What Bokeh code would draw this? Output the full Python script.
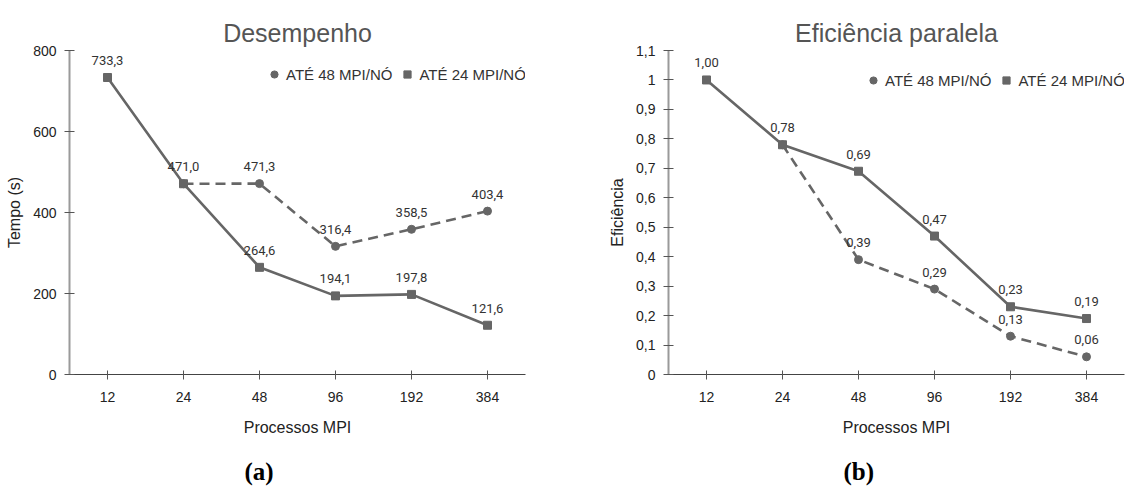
from bokeh.plotting import figure
from bokeh.models import ColumnDataSource, FactorRange, Range1d, FixedTicker, Legend, LegendItem, Title
from bokeh.layouts import row
from bokeh.embed import file_html
from bokeh.resources import INLINE
from bokeh.core.properties import value

# ---- data ----
procs = ["12", "24", "48", "96", "192", "384"]
tempo_24 = [733.3, 471.0, 264.6, 194.1, 197.8, 121.6]
tempo_48 = [None, 471.0, 471.3, 316.4, 358.5, 403.4]
efic_24 = [1.00, 0.78, 0.69, 0.47, 0.23, 0.19]
efic_48 = [None, 0.78, 0.39, 0.29, 0.13, 0.06]
tempo_ticks = [0, 200, 400, 600, 800]
efic_ticks = [0, 0.1, 0.2, 0.3, 0.4, 0.5, 0.6, 0.7, 0.8, 0.9, 1.0, 1.1]
series_names = ["ATÉ 48 MPI/NÓ", "ATÉ 24 MPI/NÓ"]

LINE = "#666666"
TXT = "#333333"
SANS = "Arial"


def make_chart(title, ylabel, s24, s48, yticks, ymax, decimals, sub,
               min_left, min_right, leg_x, leg_y):
    p = figure(x_range=FactorRange(*procs), y_range=Range1d(0, ymax),
               frame_width=456, frame_height=324,
               min_border_left=min_left, min_border_right=min_right,
               min_border_top=50, min_border_bottom=115,
               output_backend="svg", toolbar_location=None,
               background_fill_color="white", border_fill_color="white")
    p.outline_line_color = None
    p.grid.visible = False

    p.title.text = title
    p.title.align = "center"
    p.title.text_font = SANS
    p.title.text_font_size = "25px"
    p.title.text_font_style = "normal"
    p.title.text_color = "#555555"
    p.title.standoff = 8

    st = Title(text=sub, align="left", offset=175, text_font="Liberation Serif",
               text_font_size="25px", text_font_style="bold", text_color="black",
               vertical_align="top", standoff=38)
    p.add_layout(st, "below")

    fmt = "{:." + str(decimals) + "f}"

    # dashed series (48 MPI/NO)
    xs48 = [c for c, v in zip(procs, s48) if v is not None]
    ys48 = [v for v in s48 if v is not None]
    lab48 = [fmt.format(v).replace(".", ",") if c != "24" else "" for c, v in zip(xs48, ys48)]
    src48 = ColumnDataSource(dict(x=xs48, y=ys48, label=lab48))
    p.line("x", "y", source=src48, line_color=LINE, line_width=2.6, line_dash="10 6")
    r48 = p.scatter("x", "y", source=src48, marker="circle", size=8,
                    fill_color=LINE, line_color=LINE)

    # solid series (24 MPI/NO)
    lab24 = [fmt.format(v).replace(".", ",") for v in s24]
    src24 = ColumnDataSource(dict(x=procs, y=s24, label=lab24))
    p.line("x", "y", source=src24, line_color=LINE, line_width=2.6)
    r24 = p.scatter("x", "y", source=src24, marker="square", size=8,
                    fill_color=LINE, line_color=LINE)

    for src in (src48, src24):
        p.text("x", "y", text="label", source=src, text_align="center",
               text_baseline="middle", y_offset=-17, text_font=value("Roboto"),
               text_font_size="13px", text_color=TXT)

    # axes
    p.yaxis.ticker = FixedTicker(ticks=yticks)
    p.yaxis.major_label_overrides = {t: ("{:g}".format(t)).replace(".", ",") for t in yticks}
    p.yaxis.axis_label = ylabel
    p.xaxis.axis_label = "Processos MPI"
    for ax in (p.xaxis[0], p.yaxis[0]):
        ax.major_label_text_font = SANS
        ax.major_label_text_font_size = "14px"
        ax.major_label_text_color = "#222222"
        ax.axis_label_text_font = SANS
        ax.axis_label_text_font_size = "16px"
        ax.axis_label_text_font_style = "normal"
        ax.axis_label_text_color = "#222222"
        ax.major_tick_line_color = "#555555"
        ax.minor_tick_line_color = None
    p.yaxis.axis_line_color = "#9a9a9a"
    p.yaxis.axis_line_width = 2
    p.yaxis.major_tick_in = 5
    p.yaxis.major_tick_out = 5
    p.yaxis.major_label_standoff = 8
    p.yaxis.axis_label_standoff = 7
    p.xaxis.axis_line_color = "#444444"
    p.xaxis.major_tick_in = 4
    p.xaxis.major_tick_out = 5
    p.xaxis.major_label_standoff = 12
    p.xaxis.axis_label_standoff = 14

    legend = Legend(items=[LegendItem(label=series_names[0], renderers=[r48]),
                           LegendItem(label=series_names[1], renderers=[r24])],
                    location=(leg_x, leg_y), orientation="horizontal",
                    padding=0, margin=0, spacing=6, label_standoff=3,
                    glyph_width=18, glyph_height=18,
                    label_text_font=SANS, label_text_font_size="15px",
                    label_text_color=TXT, border_line_color=None,
                    background_fill_alpha=0)
    p.add_layout(legend, "center")
    return p


p1 = make_chart("Desempenho", "Tempo (s)", tempo_24, tempo_48, tempo_ticks, 800, 1, "(a)",
                69, 63, 196, 291)
p2 = make_chart("Eficiência paralela", "Eficiência", efic_24, efic_48, efic_ticks, 1.1, 2, "(b)",
                80, 13, 196, 285)

layout = row(p1, p2)
open("out.html", "w").write(file_html(layout, INLINE))
